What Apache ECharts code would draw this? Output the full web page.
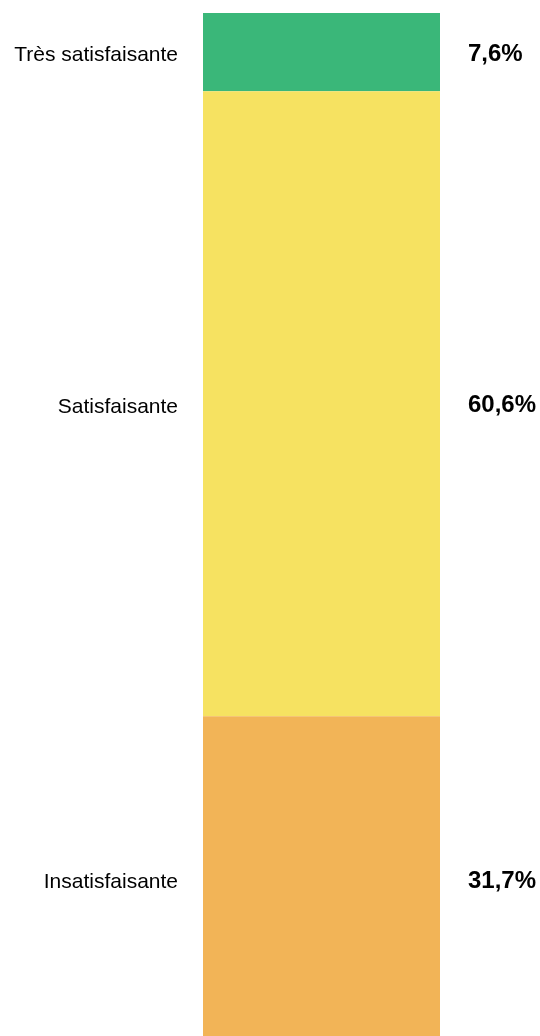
<!DOCTYPE html>
<html>
<head>
<meta charset="utf-8">
<script src="https://cdn.jsdelivr.net/npm/echarts@6/dist/echarts.min.js"></script>
<style>
  html, body { margin: 0; padding: 0; background: #ffffff; }
  #chart { width: 540px; height: 1036px; }
</style>
</head>
<body>
<div id="chart"></div>
<script>
// Satisfaction levels, top to bottom, with their shares (%)
const categories = ['Très satisfaisante', 'Satisfaisante', 'Insatisfaisante'];
const shares = [7.6, 60.6, 31.7];
const colors = ['#3AB779', '#F6E261', '#F2B457'];

const fmtPct = v => v.toFixed(1).replace('.', ',') + '%';
const total = shares.reduce((a, b) => a + b, 0);

// Coloured stack with the percentage on the right
const barSeries = categories.map((name, i) => ({
  name: name,
  type: 'bar',
  stack: 'share',
  barWidth: '100%',
  data: [shares[i]],
  itemStyle: { color: colors[i] },
  label: {
    show: true,
    position: 'right',
    distance: 28,
    offset: [0, 2],
    formatter: () => fmtPct(shares[i]),
    fontFamily: 'Liberation Sans, Arial, sans-serif',
    fontSize: 24,
    fontWeight: 'bold',
    color: '#000000'
  },
  silent: true
}));

// Transparent overlay stack carrying the category names on the left
const nameSeries = categories.map((name, i) => ({
  name: name + ' ',
  type: 'bar',
  stack: 'names',
  barWidth: '100%',
  barGap: '-100%',
  data: [shares[i]],
  itemStyle: { color: 'rgba(0,0,0,0)' },
  label: {
    show: true,
    position: 'left',
    distance: 25,
    offset: [0, 3],
    formatter: () => name,
    fontFamily: 'Liberation Sans, Arial, sans-serif',
    fontSize: 21,
    color: '#000000'
  },
  silent: true
}));

const chart = echarts.init(document.getElementById('chart'), null, { renderer: 'canvas' });
chart.setOption({
  animation: false,
  backgroundColor: '#ffffff',
  grid: {
    left: 203, width: 237, top: 13, height: 1030,
    outerBoundsMode: 'none', containLabel: false
  },
  xAxis: {
    type: 'category',
    data: ['Satisfaction'],
    show: false
  },
  yAxis: {
    type: 'value',
    inverse: true,
    min: 0,
    max: total,
    show: false
  },
  series: barSeries.concat(nameSeries)
});
</script>
</body>
</html>
